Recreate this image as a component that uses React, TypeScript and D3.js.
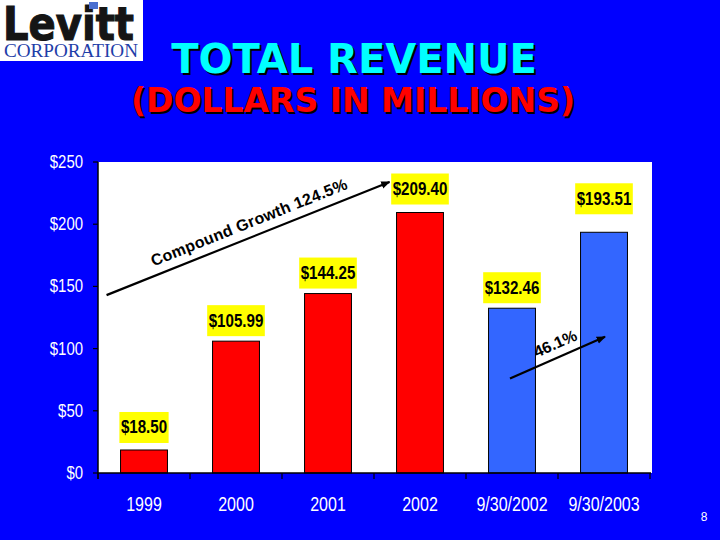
import React from "react";
import * as d3 from "d3";

const categories = ["1999", "2000", "2001", "2002", "9/30/2002", "9/30/2003"];
const revenues = [18.5, 105.99, 144.25, 209.4, 132.46, 193.51];
const valueLabels = ["$18.50", "$105.99", "$144.25", "$209.40", "$132.46", "$193.51"];
const periodTypes = ["year", "year", "year", "year", "ytd", "ytd"];
const yTicks = [0, 50, 100, 150, 200, 250];
const yTickLabels = ["$0", "$50", "$100", "$150", "$200", "$250"];
const growthLabel = "Compound Growth 124.5%";
const ytdGrowthLabel = "46.1%";

const W = 720;
const H = 540;
const M = { left: 98, right: 650, top: 162, bottom: 473 };

function textWidth(s: string, size: number) {
  let w = 0;
  for (const c of s) w += c === "." || c === "/" ? 0.278 : 0.556;
  return w * size;
}

export default function App() {
  const x = d3
    .scaleBand<string>()
    .domain(categories)
    .range([M.left, M.right])
    .paddingInner(0.49)
    .paddingOuter(0.245);
  const y = d3.scaleLinear().domain([0, 250]).range([M.bottom, M.top]);
  const step = x.step();
  const rangeStart = M.left;
  const labelLift = [2, 0, 0, 3, 0, 13];
  const condense = 0.84;

  const arrow1 = {
    x1: (x("1999") as number) - 14,
    y1: y(143),
    x2: (x("2002") as number) - 7,
    y2: y(234),
  };
  const c4 = (x("9/30/2002") as number) + x.bandwidth() / 2;
  const c5 = (x("9/30/2003") as number) + x.bandwidth() / 2;
  const arrow2 = { x1: c4 - 2, y1: y(76), x2: c5 + 1, y2: y(109.5) };

  const ang = (a: any) => (Math.atan2(a.y2 - a.y1, a.x2 - a.x1) * 180) / Math.PI;

  const titleFont = "'DejaVu Sans', Verdana, sans-serif";
  const arial = "'Liberation Sans', Arial, sans-serif";

  return (
    <svg
      width={W}
      height={H}
      style={{ position: "absolute", left: 0, top: 0, display: "block" }}
    >
      <defs>
        <marker
          id="ah"
          viewBox="0 0 10 10"
          refX="9"
          refY="5"
          markerWidth="4.2"
          markerHeight="4.2"
          orient="auto"
        >
          <path d="M0,1 L10,5 L0,9 z" fill="#000" />
        </marker>
      </defs>
      <rect x={0} y={0} width={W} height={H} fill="#0000FF" />

      {/* Logo */}
      <rect x={0} y={0} width={143} height={61} fill="#fff" />
      <text
        x={3}
        y={40}
        fontFamily={titleFont}
        fontWeight={900}
        fontSize={47}
        fill="#151515"
        stroke="#151515"
        strokeWidth={1.2}
        textLength={131}
        lengthAdjust="spacingAndGlyphs"
      >
        Levitt
      </text>
      <rect x={89} y={2} width={9} height={7} fill="#4a6fd0" />
      <text
        x={4}
        y={57}
        fontFamily="'Liberation Serif', 'Times New Roman', serif"
        fontSize={18}
        fill="#1f3ea8"
        textLength={134}
        lengthAdjust="spacingAndGlyphs"
      >
        CORPORATION
      </text>

      {/* Title */}
      <g fontFamily={titleFont} fontWeight="bold" textAnchor="middle">
        <text x={356} y={75} fontSize={40} fill="#000">
          TOTAL REVENUE
        </text>
        <text x={354} y={73} fontSize={40} fill="#00FFFF">
          TOTAL REVENUE
        </text>
        <text x={355} y={114} fontSize={33} fill="#000">
          (DOLLARS IN MILLIONS)
        </text>
        <text x={353} y={112} fontSize={33} fill="#FF0000">
          (DOLLARS IN MILLIONS)
        </text>
      </g>

      {/* Plot area */}
      <rect x={M.left} y={M.top} width={M.right - M.left + 2} height={M.bottom - M.top} fill="#fff" />

      {/* Bars */}
      {categories.map((c, i) => (
        <rect
          key={c}
          x={x(c)}
          y={y(revenues[i])}
          width={x.bandwidth()}
          height={y(0) - y(revenues[i])}
          fill={periodTypes[i] === "year" ? "#FF0000" : "#3366FF"}
          stroke="#000"
          strokeWidth={1}
        />
      ))}

      {/* Value labels */}
      {categories.map((c, i) => {
        const cx = (x(c) as number) + x.bandwidth() / 2;
        const tl = textWidth(valueLabels[i], 18) * condense;
        const bw = tl + 3;
        const bottom = y(revenues[i]) - 5 - labelLift[i];
        const bh = 31;
        return (
          <g key={"l" + c}>
            <rect x={cx - bw / 2} y={bottom - bh} width={bw} height={bh} fill="#FFFF00" />
            <text
              x={cx}
              y={bottom - bh / 2 + 6}
              textAnchor="middle"
              fontFamily={arial}
              fontWeight="bold"
              fontSize={18}
              textLength={tl}
              lengthAdjust="spacingAndGlyphs"
              fill="#000"
            >
              {valueLabels[i]}
            </text>
          </g>
        );
      })}

      {/* Axes */}
      <line x1={M.left} x2={M.left} y1={M.top} y2={M.bottom + 6} stroke="#000" strokeWidth={1.5} />
      <line x1={M.left} x2={M.right + 1} y1={M.bottom} y2={M.bottom} stroke="#000" strokeWidth={1.5} />
      {yTicks.map((t, i) => (
        <g key={"y" + t}>
          <line x1={M.left - 5} x2={M.left} y1={y(t)} y2={y(t)} stroke="#000" strokeWidth={1.2} />
          <text
            x={83}
            y={y(t) + 6}
            textAnchor="end"
            fontFamily={arial}
            fontSize={18}
            textLength={textWidth(yTickLabels[i], 18) * 0.83}
            lengthAdjust="spacingAndGlyphs"
            fill="#fff"
          >
            {yTickLabels[i]}
          </text>
        </g>
      ))}
      {d3.range(categories.length + 1).map((i) => (
        <line
          key={"xt" + i}
          x1={rangeStart + i * step}
          x2={rangeStart + i * step}
          y1={M.bottom}
          y2={M.bottom + 6}
          stroke="#000"
          strokeWidth={1.2}
        />
      ))}
      {categories.map((c) => (
        <text
          key={"xl" + c}
          x={(x(c) as number) + x.bandwidth() / 2}
          y={511}
          textAnchor="middle"
          fontFamily={arial}
          fontSize={20}
          textLength={textWidth(c, 20) * 0.8}
          lengthAdjust="spacingAndGlyphs"
          fill="#fff"
        >
          {c}
        </text>
      ))}

      {/* Growth arrows */}
      <line
        x1={arrow1.x1}
        y1={arrow1.y1}
        x2={arrow1.x2}
        y2={arrow1.y2}
        stroke="#000"
        strokeWidth={2.2}
        markerEnd="url(#ah)"
      />
      <text
        transform={`translate(${(arrow1.x1 + arrow1.x2) / 2 + 3},${(arrow1.y1 + arrow1.y2) / 2 - 11}) rotate(${ang(arrow1)})`}
        textAnchor="middle"
        fontFamily={arial}
        fontWeight="bold"
        fontSize={16}
        letterSpacing={0.3}
        fill="#000"
      >
        {growthLabel}
      </text>
      <line
        x1={arrow2.x1}
        y1={arrow2.y1}
        x2={arrow2.x2}
        y2={arrow2.y2}
        stroke="#000"
        strokeWidth={2.2}
        markerEnd="url(#ah)"
      />
      <text
        transform={`translate(${(arrow2.x1 + arrow2.x2) / 2}, ${(arrow2.y1 + arrow2.y2) / 2 - 9}) rotate(${ang(arrow2)})`}
        textAnchor="middle"
        fontFamily={arial}
        fontWeight="bold"
        fontSize={16}
        fill="#000"
      >
        {ytdGrowthLabel}
      </text>

      {/* Page number */}
      <text x={704} y={521} textAnchor="middle" fontFamily={arial} fontSize={12} fill="#fff">
        8
      </text>
    </svg>
  );
}
